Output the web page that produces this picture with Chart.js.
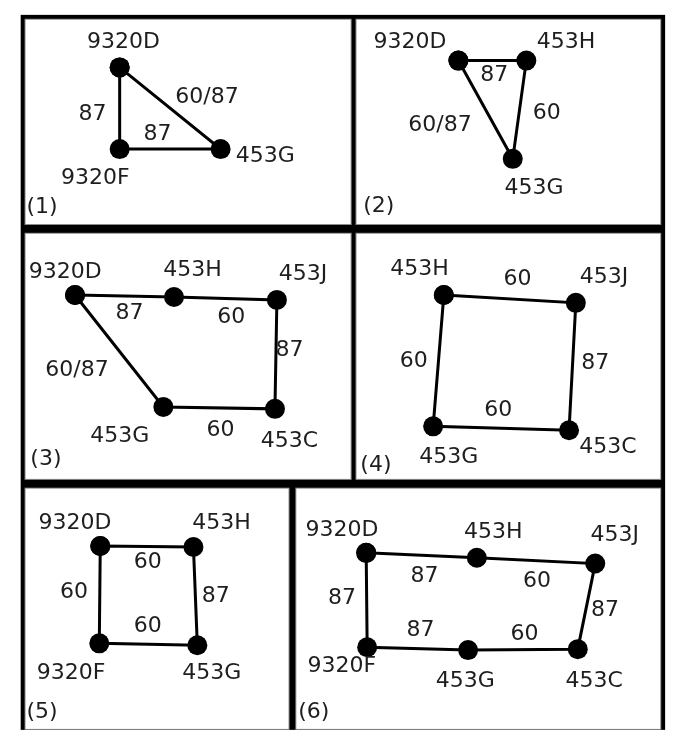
<!DOCTYPE html>
<html>
<head>
<meta charset="utf-8">
<script src="https://cdn.jsdelivr.net/npm/chart.js@4/dist/chart.umd.min.js"></script>
<style>
  html, body { margin: 0; padding: 0; background: #fff; overflow: hidden; }
  #wrap { width: 679px; height: 736px; position: absolute; left: 0; top: 0; }
  #graphChart { display: block; }
</style>
</head>
<body>
<div id="wrap"><canvas id="graphChart" width="679" height="736"></canvas></div>
<script>
// panel (1)
const p1Names = ["9320D", "453G", "9320F", "9320D"];
const p1X = [113, 217, 113, 113];
const p1Y = [59, 143, 143, 59];
const p1Edges = ["60/87", "87", "87"];

// panel (2)
const p2Names = ["9320D", "453H", "453G", "9320D"];
const p2X = [462, 532, 518, 462];
const p2Y = [52, 52, 153, 52];
const p2Edges = ["87", "60", "60/87"];

// panel (3)
const p3Names = ["9320D", "453H", "453J", "453C", "453G", "9320D"];
const p3X = [67, 169, 275, 273, 158, 67];
const p3Y = [293, 295, 298, 410, 408, 293];
const p3Edges = ["87", "60", "87", "60", "60/87"];

// panel (4)
const p4Names = ["453H", "453J", "453C", "453G", "453H"];
const p4X = [447, 583, 576, 436, 447];
const p4Y = [293, 301, 432, 428, 293];
const p4Edges = ["60", "87", "60", "60"];

// panel (5)
const p5Names = ["9320D", "453H", "453G", "9320F", "9320D"];
const p5X = [93, 189, 193, 92, 93];
const p5Y = [551, 552, 653, 651, 551];
const p5Edges = ["60", "87", "60", "60"];

// panel (6)
const p6Names = ["9320D", "453H", "453J", "453C", "453G", "9320F", "9320D"];
const p6X = [367, 481, 603, 585, 472, 368, 367];
const p6Y = [558, 563, 569, 657, 658, 655, 558];
const p6Edges = ["87", "60", "87", "60", "87", "87"];

const panelTitles = ["(1)", "(2)", "(3)", "(4)", "(5)", "(6)"];

// where the texts sit (chart units)
const nodeLabelPos = [
    [[117, 33], [263, 150], [88, 173]],
    [[412, 33], [573, 33], [540, 183]],
    [[57, 270], [188, 268], [302, 272], [288, 443], [113, 438]],
    [[422, 267], [612, 275], [616, 450], [452, 460]],
    [[67, 528], [218, 528], [208, 682], [63, 682]],
    [[342, 535], [498, 537], [623, 540], [602, 690], [469, 690], [342, 675]]
];
const edgeLabelPos = [
    [[203, 90], [152, 128], [85, 107]],
    [[499, 67], [553, 106], [443, 118]],
    [[123, 312], [228, 316], [288, 350], [217, 432], [69, 370]],
    [[523, 277], [603, 363], [503, 411], [416, 361]],
    [[142, 568], [212, 603], [142, 634], [66, 599]],
    [[427, 582], [543, 587], [613, 617], [530, 642], [423, 638], [342, 605]]
];
const titlePos = [[33, 203], [380, 202], [37, 462], [377, 468], [33, 722], [313, 722]];

const panels = [
    { names: p1Names, x: p1X, y: p1Y, edges: p1Edges },
    { names: p2Names, x: p2X, y: p2Y, edges: p2Edges },
    { names: p3Names, x: p3X, y: p3Y, edges: p3Edges },
    { names: p4Names, x: p4X, y: p4Y, edges: p4Edges },
    { names: p5Names, x: p5X, y: p5Y, edges: p5Edges },
    { names: p6Names, x: p6X, y: p6Y, edges: p6Edges }
];

// panel frames: [left, top, right, bottom] of each white area
const frames = [
    [15, 9, 352, 221], [356, 9, 671, 221],
    [15, 229, 352, 483], [356, 229, 671, 483],
    [15, 491, 288, 740], [294, 491, 671, 740]
];

const framePlugin = {
    id: "frames",
    beforeDraw(chart) {
        const ctx = chart.ctx;
        const xs = chart.scales.x, ys = chart.scales.y;
        ctx.save();
        ctx.fillStyle = "#ffffff";
        ctx.fillRect(0, 0, chart.width, chart.height);
        ctx.fillStyle = "#000000";
        ctx.fillRect(xs.getPixelForValue(11), ys.getPixelForValue(5),
            xs.getPixelForValue(675) - xs.getPixelForValue(11),
            ys.getPixelForValue(740) - ys.getPixelForValue(5));
        frames.forEach(f => {
            const l = xs.getPixelForValue(f[0]), t = ys.getPixelForValue(f[1]);
            const r = xs.getPixelForValue(f[2]), b = ys.getPixelForValue(f[3]);
            ctx.fillStyle = "#8c8c8c";
            ctx.fillRect(l, t, r - l, b - t);
            ctx.fillStyle = "#ffffff";
            ctx.fillRect(l + 1, t + 1, r - l - 2, b - t - 2);
        });
        ctx.restore();
    }
};

const textPlugin = {
    id: "texts",
    afterDatasetsDraw(chart) {
        const ctx = chart.ctx;
        const xs = chart.scales.x, ys = chart.scales.y;
        ctx.save();
        ctx.fillStyle = "#1e1e1e";
        ctx.font = "22px 'DejaVu Sans'";
        ctx.textAlign = "center";
        ctx.textBaseline = "middle";
        panels.forEach((p, i) => {
            for (let k = 0; k < p.names.length - 1; k++) {
                const pos = nodeLabelPos[i][k];
                ctx.fillText(p.names[k], xs.getPixelForValue(pos[0]), ys.getPixelForValue(pos[1]));
            }
            p.edges.forEach((e, k) => {
                const pos = edgeLabelPos[i][k];
                ctx.fillText(e, xs.getPixelForValue(pos[0]), ys.getPixelForValue(pos[1]));
            });
            const tp = titlePos[i];
            ctx.fillText(panelTitles[i], xs.getPixelForValue(tp[0]), ys.getPixelForValue(tp[1]));
        });
        ctx.restore();
    }
};

const datasets = panels.map((p, i) => ({
    label: panelTitles[i],
    data: p.x.map((v, k) => ({ x: v, y: p.y[k] })),
    showLine: true,
    borderColor: "#000000",
    borderWidth: 3,
    backgroundColor: "#000000",
    pointRadius: 10,
    pointBorderWidth: 0,
    pointBackgroundColor: "#000000",
    tension: 0
}));

new Chart(document.getElementById("graphChart"), {
    type: "scatter",
    data: { datasets: datasets },
    options: {
        responsive: false,
        animation: false,
        devicePixelRatio: 1,
        layout: { padding: 0 },
        plugins: {
            legend: { display: false },
            tooltip: { enabled: false }
        },
        scales: {
            x: { type: "linear", min: 0, max: 679, display: false },
            y: { type: "linear", min: 0, max: 736, reverse: true, display: false }
        }
    },
    plugins: [framePlugin, textPlugin]
});
</script>
</body>
</html>
